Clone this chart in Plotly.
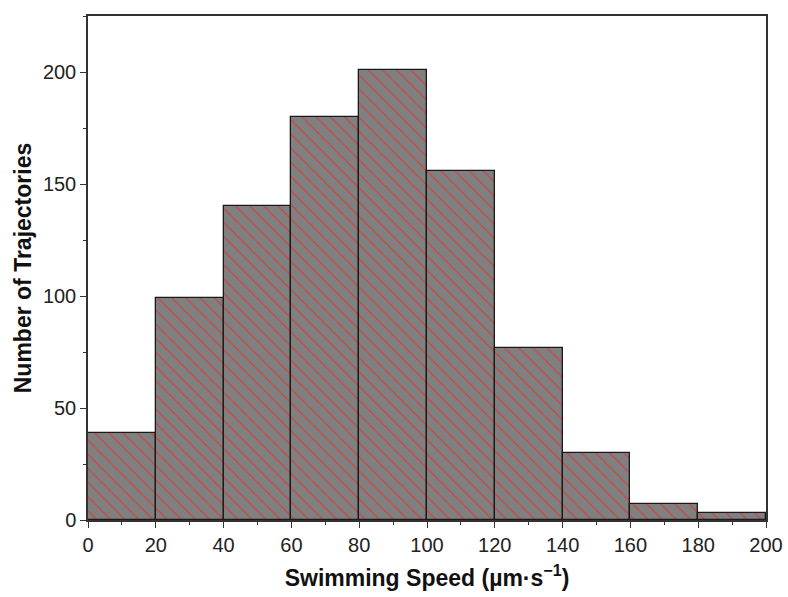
import plotly.graph_objects as go

bin_starts = [0, 20, 40, 60, 80, 100, 120, 140, 160, 180]
bin_width = 20
counts = [39, 99, 140, 180, 201, 156, 77, 30, 7, 3]
x_ticks = [0, 20, 40, 60, 80, 100, 120, 140, 160, 180, 200]
y_ticks = [0, 50, 100, 150, 200]

centers = [s + bin_width / 2 for s in bin_starts]

fig = go.Figure(go.Bar(
    x=centers, y=counts, width=[bin_width] * len(counts),
    marker=dict(
        color="#808080",
        line=dict(color="#1a1a1a", width=1.3),
        pattern=dict(shape="\\", fgcolor="#ff1a1a", bgcolor="#808080",
                     size=10, solidity=0.15, fillmode="overlay"),
    ),
))

font = "Liberation Sans, Arial, sans-serif"
fig.update_layout(
    width=788, height=597, autosize=False,
    margin=dict(l=88, r=22, t=16, b=77),
    plot_bgcolor="white", paper_bgcolor="white",
    showlegend=False, bargap=0,
    font=dict(family=font, size=20, color="#222"),
    xaxis=dict(
        range=[0, 200], tickvals=x_ticks, ticks="outside", ticklen=6,
        tickwidth=1.3, tickcolor="#333", showline=True, linecolor="#333",
        linewidth=1.5, mirror=True, showgrid=False, zeroline=False,
        automargin=False, ticklabeloverflow="allow",
        minor=dict(dtick=10, ticks="outside", ticklen=3, tickcolor="#333", tickwidth=1.2),
        title=dict(text="<b>Swimming Speed (µm·s<sup>−1</sup>)</b>", font=dict(size=23, family=font, color="#111"), standoff=15),
    ),
    yaxis=dict(
        range=[0, 225], tickvals=y_ticks, ticks="outside", ticklen=6,
        tickwidth=1.3, tickcolor="#333", showline=True, linecolor="#333",
        linewidth=1.5, mirror=True, showgrid=False, zeroline=False,
        minor=dict(dtick=25, ticks="outside", ticklen=3, tickcolor="#333", tickwidth=1.2),
        title=dict(text="<b>Number of Trajectories</b>", font=dict(size=23, family=font, color="#111"), standoff=5),
    ),
)

fig.write_html("out.html", config={"responsive": False})
